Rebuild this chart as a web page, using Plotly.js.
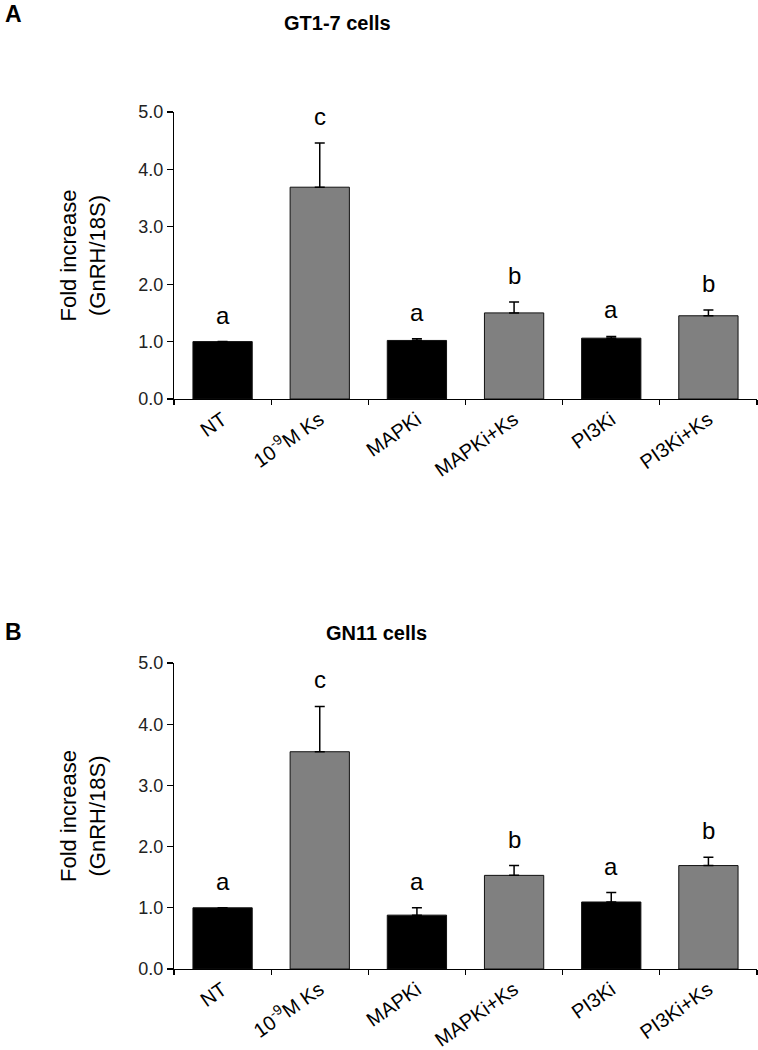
<!DOCTYPE html>
<html>
<head>
<meta charset="utf-8">
<script src="https://cdn.plot.ly/plotly-3.0.1.min.js"></script>
<style>html,body{margin:0;padding:0;background:#fff;}#chart{width:758px;height:1050px;}</style>
</head>
<body>
<div id="chart"></div>
<script>
const categories = ["NT", "10<sup>-9</sup>M Ks", "MAPKi", "MAPKi+Ks", "PI3Ki", "PI3Ki+Ks"];
const barColors = ["#000000", "#808080", "#000000", "#808080", "#000000", "#808080"];

const gt17Values = [1.00, 3.69, 1.02, 1.50, 1.06, 1.45];
const gt17Errors = [0.00, 0.77, 0.03, 0.19, 0.03, 0.10];
const gt17Letters = ["a", "c", "a", "b", "a", "b"];

const gn11Values = [1.00, 3.55, 0.88, 1.53, 1.095, 1.69];
const gn11Errors = [0.00, 0.74, 0.12, 0.16, 0.155, 0.135];
const gn11Letters = ["a", "c", "a", "b", "a", "b"];

const yTicks = [0, 1, 2, 3, 4, 5];

const FONT = "Liberation Sans, Arial, sans-serif";

function barTrace(vals, errs, xa, ya) {
  return {
    type: "bar",
    x: categories,
    y: vals,
    xaxis: xa,
    yaxis: ya,
    width: 0.61,
    marker: {color: barColors, line: {color: "#111111", width: 1}},
    error_y: {type: "data", array: errs, arrayminus: errs.map(() => 0), symmetric: false,
              color: "#000000", thickness: 1.5, width: 5},
    showlegend: false,
    hoverinfo: "skip",
    cliponaxis: false
  };
}

function letterAnnots(vals, errs, letters, xref, yref) {
  return letters.map((t, i) => ({
    x: categories[i], y: vals[i] + errs[i], xref: xref, yref: yref,
    text: t, showarrow: false, yanchor: "bottom", yshift: 11,
    font: {family: FONT, size: 24, color: "#000"}
  }));
}

const xCommon = {
  type: "category",
  showline: true, linecolor: "#000", linewidth: 1.2,
  ticks: "outside", tickson: "boundaries", ticklen: 5, tickcolor: "#000", tickwidth: 1.2,
  tickangle: -35,
  tickfont: {family: FONT, size: 20, color: "#000"},
  range: [-0.5, 5.5],
  fixedrange: true,
  showgrid: false, zeroline: false
};
const yCommon = {
  range: [0, 5],
  tickvals: yTicks,
  tickformat: ".1f",
  showline: true, linecolor: "#000", linewidth: 1.2,
  ticks: "outside", ticklen: 6, tickcolor: "#000", tickwidth: 1.2,
  tickfont: {family: FONT, size: 18, color: "#222"},
  showgrid: false, zeroline: false,
  title: {text: "Fold increase<br>(GnRH/18S)", font: {family: FONT, size: 22, color: "#000"}, standoff: 26}
};

const data = [
  barTrace(gt17Values, gt17Errors, "x", "y"),
  barTrace(gn11Values, gn11Errors, "x2", "y2")
];

const layout = {
  width: 758, height: 1050,
  margin: {l: 0, r: 0, t: 0, b: 0},
  paper_bgcolor: "#fff", plot_bgcolor: "#fff",
  xaxis: Object.assign({}, xCommon, {domain: [174/758, 757/758], anchor: "y"}),
  yaxis: Object.assign({}, yCommon, {domain: [1 - 399/1050, 1 - 112/1050], anchor: "x"}),
  xaxis2: Object.assign({}, xCommon, {domain: [174/758, 757/758], anchor: "y2"}),
  yaxis2: Object.assign({}, yCommon, {domain: [1 - 969/1050, 1 - 663/1050], anchor: "x2"}),
  annotations: [
    {text: "<b>A</b>", xref: "paper", yref: "paper", x: 3/758, y: 1 - 14/1050, xanchor: "left", yanchor: "middle",
     showarrow: false, font: {family: FONT, size: 23, color: "#000"}},
    {text: "<b>GT1-7 cells</b>", xref: "paper", yref: "paper", x: 337/758, y: 1 - 23/1050, xanchor: "center", yanchor: "middle",
     showarrow: false, font: {family: FONT, size: 20, color: "#000"}},
    {text: "<b>B</b>", xref: "paper", yref: "paper", x: 3/758, y: 1 - 632/1050, xanchor: "left", yanchor: "middle",
     showarrow: false, font: {family: FONT, size: 23, color: "#000"}},
    {text: "<b>GN11 cells</b>", xref: "paper", yref: "paper", x: 376/758, y: 1 - 633/1050, xanchor: "center", yanchor: "middle",
     showarrow: false, font: {family: FONT, size: 20, color: "#000"}}
  ].concat(letterAnnots(gt17Values, gt17Errors, gt17Letters, "x", "y"))
   .concat(letterAnnots(gn11Values, gn11Errors, gn11Letters, "x2", "y2")),
  bargap: 0.39
};

Plotly.newPlot("chart", data, layout, {displayModeBar: false, staticPlot: true});
</script>
</body>
</html>
